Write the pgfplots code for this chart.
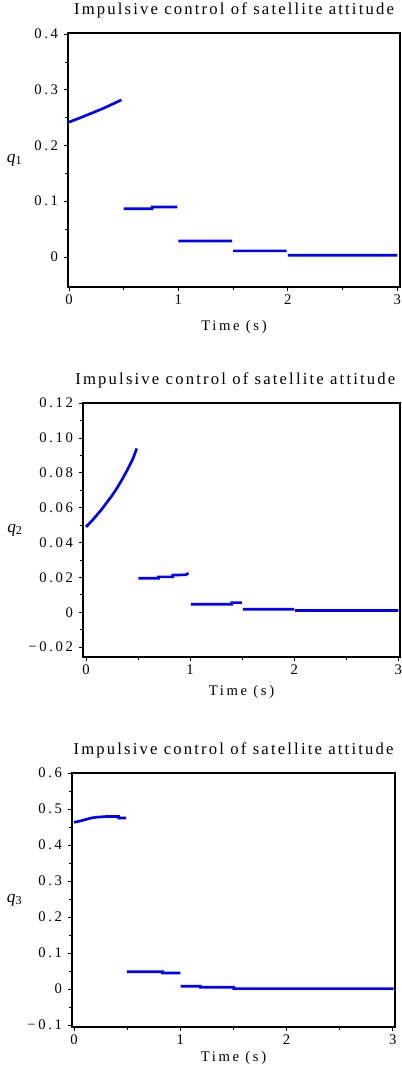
\documentclass[border=0pt]{standalone}
\usepackage{fontspec}
\setmainfont{Liberation Serif}
\newfontfamily\titlefont[LetterSpace=13]{Liberation Serif}
\newfontfamily\tickfont[LetterSpace=18]{Liberation Serif}
\usepackage{pgfplots}
\pgfplotsset{compat=1.18}

% common look of the three Maple-like panels
\pgfplotsset{
  sat/.style={
    scale only axis,
    axis line style={black, line width=0.8pt},
    tick align=outside,
    xtick pos=left, ytick pos=left,
    major tick length=3pt, minor tick length=2pt,
    every tick/.style={black, line width=0.6pt},
    minor x tick num=1, minor y tick num=1,
    xtick={0,1,2,3},
    tick label style={font=\tickfont\fontsize{11}{12}\selectfont},
    /pgf/number format/assume math mode=true,
    xticklabel style={yshift=1pt},
    yticklabel style={xshift=-1pt},
    title style={font=\titlefont\fontsize{12.5}{14}\selectfont, at={(0.5,1)}, anchor=base, yshift=8pt},
    xlabel style={font=\tickfont\fontsize{11}{12}\selectfont, at={(0.5,0)}, anchor=base},
    ylabel style={font=\fontsize{13}{14}\selectfont, rotate=-90, at={(0,0.5)}, anchor=center},
    title={Impulsive control of satellite attitude},
    xlabel={Time (s)},
    unbounded coords=jump,
  },
  q/.style={blue, line width=2pt, line cap=butt},
}

\begin{document}
\begin{tikzpicture}
\useasboundingbox (0,0) rectangle (300.75pt,802.5pt);

% ---- q1 ----
\begin{axis}[sat,
  at={(51pt,587.25pt)}, anchor=south west,
  width=249pt, height=190.5pt,
  xmin=-0.009, xmax=3.025, ymin=-0.054, ymax=0.402,
  ytick={0,0.1,0.2,0.3,0.4},
  yticklabels={0,0.1,0.2,0.3,0.4},
  xlabel style={yshift=-33pt},
  ylabel style={xshift=-40pt},
  ylabel={\textit{q}\textsubscript{1}},
]
\addplot[q] coordinates {
  (0,0.242) (0.1,0.2495) (0.2,0.2575) (0.3,0.2655) (0.4,0.2745) (0.48,0.282)
  (0.49,nan)
  (0.50,0.0866) (0.76,0.0866) (0.76,0.0896) (0.99,0.0896)
  (0.995,nan)
  (1.0,0.0287) (1.49,0.0287)
  (1.495,nan)
  (1.5,0.0108) (1.99,0.0108)
  (1.995,nan)
  (2.0,0.0029) (3.0,0.0029)
};
\end{axis}

% ---- q2 ----
\begin{axis}[sat,
  at={(62.25pt,309.75pt)}, anchor=south west,
  width=237.75pt, height=190.5pt,
  xmin=-0.029, xmax=3.016, ymin=-0.0257, ymax=0.1201,
  ytick={-0.02,0,0.02,0.04,0.06,0.08,0.10,0.12},
  yticklabels={−0.02,0,0.02,0.04,0.06,0.08,0.10,0.12},
  title style={at={(1,1)}, anchor=base east},
  xlabel style={yshift=-29pt},
  ylabel style={xshift=-51pt},
  ylabel={\textit{q}\textsubscript{2}},
]
\addplot[q] coordinates {
  (0,0.049) (0.05,0.052) (0.1,0.0555) (0.15,0.059) (0.2,0.063) (0.25,0.067)
  (0.3,0.0715) (0.35,0.0765) (0.4,0.082) (0.45,0.088) (0.487,0.094)
  (0.495,nan)
  (0.503,0.0195) (0.696,0.0195) (0.696,0.0203) (0.833,0.0203) (0.833,0.0213)
  (0.96,0.0215) (0.984,0.0225)
  (0.995,nan)
  (1.006,0.0046) (1.40,0.0046) (1.40,0.0055) (1.497,0.0055)
  (1.50,nan)
  (1.506,0.0017) (2.0,0.0017)
  (2.003,nan)
  (2.006,0.0010) (3.0,0.0010)
};
\end{axis}

% ---- q3 ----
\begin{axis}[sat,
  at={(54pt,32.25pt)}, anchor=south west,
  width=242.25pt, height=190.5pt,
  xmin=-0.019, xmax=3.02, ymin=-0.1056, ymax=0.6,
  ytick={-0.1,0,0.1,0.2,0.3,0.4,0.5,0.6},
  yticklabels={−0.1,0,0.1,0.2,0.3,0.4,0.5,0.6},
  xlabel style={yshift=-26pt},
  ylabel style={xshift=-43pt},
  ylabel={\textit{q}\textsubscript{3}},
]
\addplot[q] coordinates {
  (0,0.463) (0.05,0.466) (0.1,0.470) (0.15,0.474) (0.2,0.477) (0.3,0.479)
  (0.42,0.479) (0.42,0.475) (0.49,0.475)
  (0.494,nan)
  (0.497,0.0481) (0.833,0.0481) (0.833,0.0444) (1.0,0.0444)
  (1.002,nan)
  (1.003,0.0074) (1.189,0.0074) (1.189,0.0046) (1.503,0.0046) (1.503,0.0009) (3.006,0.0009)
};
\end{axis}
\end{tikzpicture}
\end{document}
